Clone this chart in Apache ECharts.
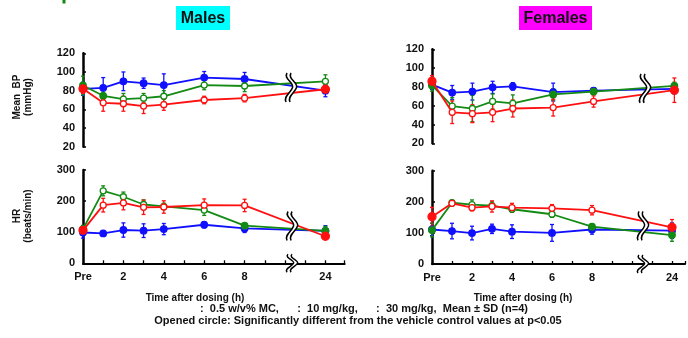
<!DOCTYPE html>
<html><head><meta charset="utf-8">
<script src="https://cdn.jsdelivr.net/npm/echarts@6/dist/echarts.min.js"></script>
<style>html,body{margin:0;padding:0;background:#fff}#c{width:688px;height:338px}</style>
</head><body><div id="c"></div>
<script>
// ---- data ----
const hours = [0, 1, 2, 3, 4, 6, 8, 24];
const xTickHours = [0, 2, 4, 6, 8, 24];
const xTickLabels = ['Pre', '2', '4', '6', '8', '24'];
const groupNames = ['0.5 w/v% MC', '10 mg/kg', '30 mg/kg'];

// Mean BP (mmHg) - Males
const maleBP_MC = [82, 83, 90, 88, 86, 94, 92.5, 80];
const maleBP_MC_sd = [7, 11, 10, 5.5, 12, 6.5, 7, 6.5];
const maleBP_MC_sig = [0, 0, 0, 0, 0, 0, 0, 0];
const maleBP_10 = [85.5, 74.5, 71, 72, 74, 86, 85, 90];
const maleBP_10_sd = [10, 4, 6, 5, 6, 5, 6, 7];
const maleBP_10_sig = [0, 0, 1, 1, 1, 1, 1, 1];
const maleBP_30 = [82, 67, 66, 63.5, 65, 70, 72, 81.5];
const maleBP_30_sd = [5, 9, 8, 8, 6, 4, 4, 4];
const maleBP_30_sig = [0, 1, 1, 1, 1, 1, 1, 0];

// Mean BP (mmHg) - Females
const femaleBP_MC = [82.5, 74, 75, 79.5, 80.5, 74.5, 76, 78];
const femaleBP_MC_sd = [5, 7.5, 9, 6.5, 4, 9.5, 3, 5.5];
const femaleBP_MC_sig = [0, 0, 0, 0, 0, 0, 0, 0];
const femaleBP_10 = [81.5, 59.5, 57, 64.5, 62.5, 72, 75, 81];
const femaleBP_10_sd = [6, 9, 14, 8, 9, 6, 2, 4];
const femaleBP_10_sig = [0, 1, 1, 1, 1, 0, 0, 0];
const femaleBP_30 = [86, 53, 51.5, 53, 57, 58, 64.5, 76.5];
const femaleBP_30_sd = [6, 12, 9.5, 10, 9, 9, 6, 13];
const femaleBP_30_sig = [0, 1, 1, 1, 1, 1, 1, 0];

// HR (beats/min) - Males
const maleHR_MC = [99, 96, 107, 105, 110, 124, 112, 104];
const maleHR_MC_sd = [18, 8, 23, 22, 18, 10, 13, 17];
const maleHR_MC_sig = [0, 0, 0, 0, 0, 0, 0, 0];
const maleHR_10 = [110, 233, 214, 189, 183, 171, 121, 104];
const maleHR_10_sd = [12, 16, 15, 15, 10, 17, 6, 15];
const maleHR_10_sig = [0, 1, 1, 1, 1, 1, 0, 0];
const maleHR_30 = [106, 187, 194, 180, 181, 187, 186, 87];
const maleHR_30_sd = [6, 22, 22, 23, 20, 20, 20, 8];
const maleHR_30_sig = [0, 1, 1, 1, 1, 1, 1, 0];

// HR (beats/min) - Females
const femaleHR_MC = [111, 106, 99.5, 113, 104, 100, 111, 107];
const femaleHR_MC_sd = [20, 25, 22, 15, 22, 27, 15, 25];
const femaleHR_MC_sig = [0, 0, 0, 0, 0, 0, 0, 0];
const femaleHR_10 = [109, 197, 191, 188, 176, 160, 120, 93];
const femaleHR_10_sd = [22, 8, 15, 12, 10, 10, 8, 20];
const femaleHR_10_sig = [0, 1, 1, 1, 1, 1, 0, 0];
const femaleHR_30 = [152, 195, 181, 185, 181, 179, 173, 118];
const femaleHR_30_sd = [30, 8, 10, 18, 14, 12, 15, 25];
const femaleHR_30_sig = [0, 1, 1, 1, 1, 1, 1, 0];

// ---- broken time axis: 8 h .. 24 h is compressed ----
const BREAK_COMPRESSED_24 = 12;
function axisPos(h) { return h === 24 ? BREAK_COMPRESSED_24 : h; }
function axisLabel(v) {
  for (let i = 0; i < xTickHours.length; i++) if (axisPos(xTickHours[i]) === v) return xTickLabels[i];
  return '';
}

const colors = ['#1010ff', '#138a13', '#ff1010'];
const FONT = 'Liberation Sans, Arial, sans-serif';

const panels = [
  { grid: { left: 83, top: 53.3, width: 261.6, height: 93.4 }, xMax: 12.95, y: [20, 120, 20], showX: false,
    series: [[maleBP_MC, maleBP_MC_sd, maleBP_MC_sig], [maleBP_10, maleBP_10_sd, maleBP_10_sig], [maleBP_30, maleBP_30_sd, maleBP_30_sig]],
    brk: [10.2, 83.4], axisBrk: false },
  { grid: { left: 432, top: 49.3, width: 255.5, height: 94 }, xMax: 12.65, y: [20, 120, 20], showX: false,
    series: [[femaleBP_MC, femaleBP_MC_sd, femaleBP_MC_sig], [femaleBP_10, femaleBP_10_sd, femaleBP_10_sig], [femaleBP_30, femaleBP_30_sd, femaleBP_30_sig]],
    brk: [10.45, 78.5], axisBrk: false },
  { grid: { left: 83, top: 170, width: 261.6, height: 93.3 }, xMax: 12.95, y: [0, 300, 100], showX: true,
    series: [[maleHR_MC, maleHR_MC_sd, maleHR_MC_sig], [maleHR_10, maleHR_10_sd, maleHR_10_sig], [maleHR_30, maleHR_30_sd, maleHR_30_sig]],
    brk: [10.25, 120], axisBrk: true },
  { grid: { left: 432, top: 170.7, width: 255.5, height: 93.3 }, xMax: 12.65, y: [0, 300, 100], showX: true,
    series: [[femaleHR_MC, femaleHR_MC_sd, femaleHR_MC_sig], [femaleHR_10, femaleHR_10_sd, femaleHR_10_sig], [femaleHR_30, femaleHR_30_sd, femaleHR_30_sig]],
    brk: [10.45, 122.5], axisBrk: true }
];

function errRender(color) {
  return function (params, api) {
    const x = api.value(0), lo = api.value(1), hi = api.value(2);
    const p1 = api.coord([x, hi]), p2 = api.coord([x, lo]);
    const cap = 2, st = { stroke: color, lineWidth: 1.3 };
    return { type: 'group', children: [
      { type: 'line', shape: { x1: p1[0], y1: p1[1], x2: p2[0], y2: p2[1] }, style: st },
      { type: 'line', shape: { x1: p1[0] - cap, y1: p1[1], x2: p1[0] + cap, y2: p1[1] }, style: st },
      { type: 'line', shape: { x1: p2[0] - cap, y1: p2[1], x2: p2[0] + cap, y2: p2[1] }, style: st }
    ] };
  };
}

// one brace-like wavy stroke, offset ox; forward or reversed
function wave(x, y, h, ox, rev) {
  const t = y - h / 2, b = y + h / 2;
  const P = [
    [x - 2 + ox, t],
    [x - 6 + ox, t + h * 0.2], [x + 5 + ox, y - h * 0.18], [x + 3.5 + ox, y],
    [x + 2 + ox, y + h * 0.18], [x - 6 + ox, b - h * 0.2], [x - 3 + ox, b]
  ];
  if (!rev) {
    return `M${P[0]} C${P[1]} ${P[2]} ${P[3]} C${P[4]} ${P[5]} ${P[6]}`;
  }
  return `L${P[6]} C${P[5]} ${P[4]} ${P[3]} C${P[2]} ${P[1]} ${P[0]}`;
}

function breakRender(h) {
  return function (params, api) {
    const c = api.coord([api.value(0), api.value(1)]);
    const x = c[0], y = c[1], d = 4;
    const c1 = wave(x, y, h, 0, false);
    const c2 = wave(x, y, h, d, false);
    const fill = c1 + ' ' + wave(x, y, h, d, true) + ' Z';
    return { type: 'group', children: [
      { type: 'path', shape: { pathData: fill }, style: { fill: '#fff', stroke: null } },
      { type: 'path', shape: { pathData: c1 }, style: { fill: null, stroke: '#000', lineWidth: 1.5 } },
      { type: 'path', shape: { pathData: c2 }, style: { fill: null, stroke: '#000', lineWidth: 1.5 } }
    ] };
  };
}

const grids = [], xAxes = [], yAxes = [], series = [];
panels.forEach((p, i) => {
  grids.push(p.grid);
  xAxes.push({
    gridIndex: i, type: 'value', min: 0, max: p.xMax, interval: 1,
    axisLine: { show: p.showX, onZero: false, lineStyle: { color: '#000', width: 2.2 } },
    axisTick: { show: p.showX, inside: true, length: 3, lineStyle: { color: '#000', width: 1.3 } },
    axisLabel: { show: p.showX, formatter: axisLabel, fontFamily: FONT, fontWeight: 'bold', fontSize: 11, color: '#111', margin: 8, showMaxLabel: true, hideOverlap: false },
    splitLine: { show: false }
  });
  yAxes.push({
    gridIndex: i, type: 'value', min: p.y[0], max: p.y[1], interval: p.y[2],
    axisLine: { show: true, lineStyle: { color: '#000', width: 2.5 } },
    axisTick: { show: true, inside: true, length: 3, lineStyle: { color: '#000', width: 1.5 } },
    axisLabel: { fontFamily: FONT, fontWeight: 'bold', fontSize: 11, color: '#111', margin: 8 },
    splitLine: { show: false }
  });
  p.series.forEach((s, g) => {
    const [mean, sd, sig] = s;
    const col = colors[g];
    series.push({
      type: 'custom', name: groupNames[g], xAxisIndex: i, yAxisIndex: i, z: 3, clip: false, silent: true,
      renderItem: errRender(col), encode: { x: 0, y: [1, 2] },
      data: hours.map((h, j) => [axisPos(h), mean[j] - sd[j], mean[j] + sd[j]])
    });
    series.push({
      type: 'line', name: groupNames[g], xAxisIndex: i, yAxisIndex: i, z: 4 + g, clip: false, silent: true,
      symbol: 'circle', lineStyle: { color: col, width: 1.8 }, animation: false,
      data: hours.map((h, j) => ({
        value: [axisPos(h), mean[j]],
        symbolSize: sig[j] ? 6 : (g === 2 ? 8 : 6.5),
        itemStyle: { color: sig[j] ? '#fff' : col, borderColor: col, borderWidth: 1.3 }
      }))
    });
  });
  series.push({
    type: 'custom', xAxisIndex: i, yAxisIndex: i, z: 10, clip: false, silent: true,
    renderItem: breakRender(29), encode: { x: 0, y: 1 }, data: [p.brk]
  });
  if (p.axisBrk) {
    series.push({
      type: 'custom', xAxisIndex: i, yAxisIndex: i, z: 10, clip: false, silent: true,
      renderItem: breakRender(18), encode: { x: 0, y: 1 }, data: [[p.brk[0], 0]]
    });
  }
});

const txt = (t, x, y, font, extra) => Object.assign({ type: 'text', x: x, y: y, style: { text: t, font: font, fill: '#111', align: 'center', verticalAlign: 'middle' } }, extra || {});

const graphic = [
  { type: 'rect', shape: { x: 62.5, y: 0, width: 3, height: 3.5 }, style: { fill: '#138a13' } },
  { type: 'rect', shape: { x: 176, y: 6, width: 54, height: 24 }, style: { fill: '#00ffff' } },
  txt('Males', 203, 18.5, 'bold 16px ' + FONT),
  { type: 'rect', shape: { x: 519, y: 6, width: 73, height: 24 }, style: { fill: '#ff00ff' } },
  txt('Females', 555.5, 18.5, 'bold 16px ' + FONT),
  txt('Mean  BP', 17, 97, 'bold 10px ' + FONT, { rotation: Math.PI / 2 }),
  txt('(mmHg)', 28.5, 97, 'bold 10px ' + FONT, { rotation: Math.PI / 2 }),
  txt('HR', 17, 216, 'bold 10px ' + FONT, { rotation: Math.PI / 2 }),
  txt('(beats/min)', 28.5, 216, 'bold 10px ' + FONT, { rotation: Math.PI / 2 }),
  txt('Time after dosing (h)', 195, 298, 'bold 10px ' + FONT),
  txt('Time after dosing (h)', 523, 298, 'bold 10px ' + FONT),
  txt(':  0.5 w/v% MC,      :  10 mg/kg,      :  30 mg/kg,  Mean \u00b1 SD (n=4)', 364, 308.5, 'bold 11px ' + FONT),
  txt('Opened circle: Significantly different from the vehicle control values at p<0.05', 358, 321, 'bold 11px ' + FONT)
];

const chart = echarts.init(document.getElementById('c'), null, { renderer: 'canvas' });
chart.setOption({ animation: false, grid: grids, xAxis: xAxes, yAxis: yAxes, series: series, graphic: graphic });
</script></body></html>
